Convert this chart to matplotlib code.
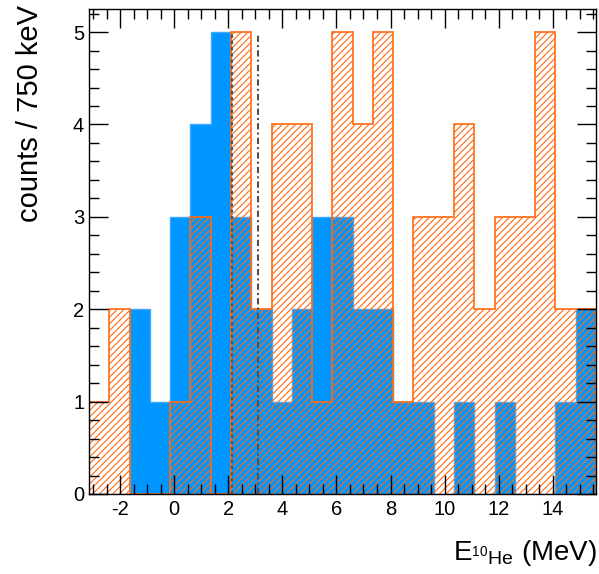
import numpy as np
import matplotlib
matplotlib.use("Agg")
from matplotlib import pyplot as plt
from matplotlib.ticker import MultipleLocator

plt.rcParams['font.family'] = ['Liberation Sans', 'DejaVu Sans']
plt.rcParams['mathtext.fontset'] = 'custom'
plt.rcParams['mathtext.rm'] = 'Liberation Sans'
plt.rcParams['hatch.linewidth'] = 0.8
plt.rcParams['axes.unicode_minus'] = False

# 25 bins of 750 keV, starting at -3.15 MeV
edges = -3.15 + 0.75 * np.arange(26)

# blue filled histogram
counts_blue = [0, 0, 2, 1, 3, 4, 5, 3, 2, 1, 2, 3, 3, 2, 2, 1, 1, 0, 1, 0, 1, 0, 0, 1, 2]
# orange hatched histogram
counts_orange = [1, 2, 0, 0, 1, 3, 0, 5, 2, 4, 4, 1, 5, 4, 5, 1, 3, 3, 4, 2, 3, 3, 5, 2, 2]

# vertical marker lines (MeV)
line_dashed = 2.12
line_dashdot = 3.11

fig = plt.figure(figsize=(5.99, 5.74), dpi=100)
ax = fig.add_axes([0.1486, 0.1394, 0.8464, 0.8449])

ax.stairs(counts_blue, edges, fill=True, facecolor='#0096ff', edgecolor='#3fa8ff', lw=1, zorder=1)
ax.stairs(counts_orange, edges, fill=True, facecolor='none', edgecolor='#ff6a10',
          hatch='/////', lw=1.2, zorder=2)

ax.vlines(line_dashed, 0, 5, colors='#505050', linestyles=(0, (1.5, 1.5)), lw=1.5, zorder=3)
ax.vlines(line_dashdot, 0, 4.97, colors='#505050', linestyles=(0, (3, 1.5, 1, 1.5)), lw=1.5, zorder=3)

ax.set_xlim(edges[0], edges[-1])
ax.set_ylim(0, 5.25)

ax.xaxis.set_major_locator(MultipleLocator(2))
ax.xaxis.set_minor_locator(MultipleLocator(0.5))
ax.yaxis.set_major_locator(MultipleLocator(1))
ax.yaxis.set_minor_locator(MultipleLocator(0.2))
ax.tick_params(which='both', direction='in', top=True, right=True, labelsize=14.5, width=1)
ax.tick_params(which='major', length=14)
ax.tick_params(which='minor', length=7)
ax.tick_params(axis='x', pad=4)
ax.set_axisbelow(False)

for sp in ax.spines.values():
    sp.set_linewidth(1)
    sp.set_zorder(5)

fig.text(30 / 599, 1 - 5 / 574, 'counts / 750 keV', rotation=90, ha='center', va='top', fontsize=21)
fig.text(597 / 599, 1 - 553 / 574, r'E$_{{}^{10}\mathrm{He}}$ (MeV)', ha='right', va='center', fontsize=20)

fig.savefig('out.png', dpi=100)
